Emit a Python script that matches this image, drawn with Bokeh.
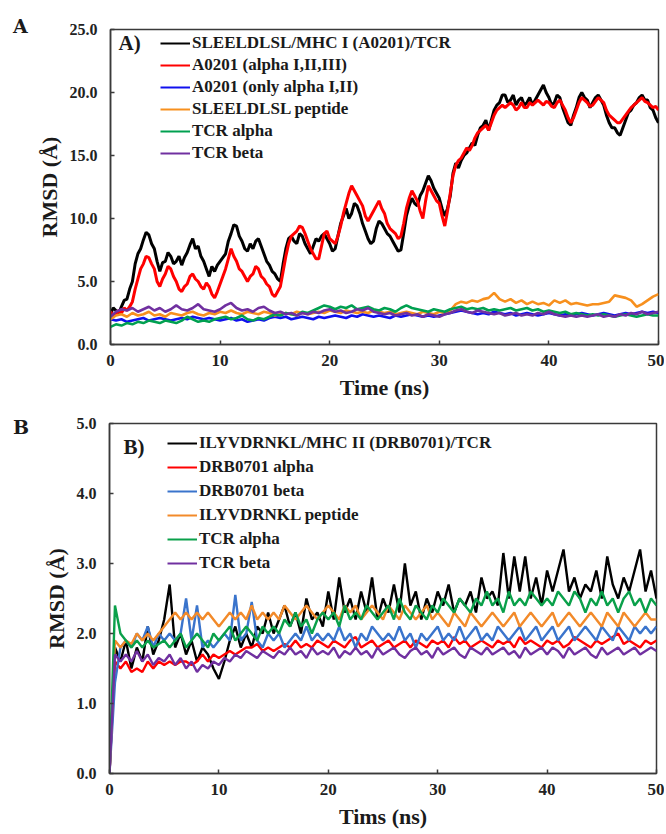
from bokeh.plotting import figure
from bokeh.models import Legend, LegendItem, Label, NumeralTickFormatter, FixedTicker, Range1d, Div
from bokeh.layouts import column, row
from bokeh.embed import file_html
from bokeh.resources import INLINE

SERIF = "Liberation Serif"

# time grids (ns)
TIME = [i * 0.5 for i in range(101)]        # 0.5 ns sampling
TIME_FINE = [i * 0.25 for i in range(201)]  # 0.25 ns sampling

# ---------------- Panel A ----------------
A_LABELS = ["SLEELDLSL/MHC I (A0201)/TCR", "A0201 (alpha I,II,III)", "A0201 (only alpha I,II)",
            "SLEELDLSL peptide", "TCR alpha", "TCR beta"]
A_COLORS = ["#000000", "#ff0000", "#1010ee", "#f7901e", "#00a050", "#7030a0"]

# complex and full MHC: 0.25 ns sampling
A_complex = [2.4, 2.9, 2.7, 2.5, 3.0, 3.5, 3.6, 4.4, 5.0, 6.4,
             7.2, 7.6, 8.3, 8.9, 8.7, 8.0, 7.6, 6.6, 5.8, 6.5,
             6.6, 7.3, 7.0, 6.4, 6.6, 7.0, 6.3, 6.9, 7.3, 7.9,
             8.4, 7.6, 7.8, 7.0, 6.6, 6.0, 5.4, 6.2, 5.8, 6.3,
             6.6, 6.9, 7.2, 8.2, 8.8, 9.5, 9.4, 8.6, 8.2, 7.6,
             7.4, 8.0, 7.6, 8.2, 8.4, 7.8, 7.2, 6.6, 6.3, 5.8,
             5.6, 5.2, 5.0, 6.4, 7.6, 8.4, 8.6, 8.2, 8.0, 8.8,
             8.6, 8.0, 7.6, 7.2, 7.8, 8.4, 8.2, 8.6, 8.8, 8.4,
             8.0, 7.4, 7.6, 8.6, 9.6, 10.2, 10.8, 10.0, 10.4, 11.2,
             11.0, 10.4, 9.6, 9.0, 8.4, 8.0, 8.2, 9.2, 9.8, 9.6,
             9.2, 8.8, 8.6, 8.2, 7.8, 7.4, 7.5, 8.8, 10.2, 11.0,
             11.6, 11.2, 11.0, 11.8, 12.2, 12.8, 13.4, 13.0, 12.4, 12.0,
             11.6, 10.8, 10.2, 10.8, 11.8, 13.6, 14.4, 14.0, 14.6, 15.0,
             15.2, 15.6, 16.0, 15.8, 16.6, 17.2, 17.4, 17.8, 17.0, 17.8,
             18.6, 19.0, 19.2, 19.8, 19.8, 19.2, 19.4, 19.8, 19.0, 19.4,
             19.6, 19.0, 19.2, 19.6, 19.0, 19.4, 19.8, 20.2, 20.6, 20.0,
             19.6, 19.0, 19.2, 19.8, 19.6, 18.8, 18.2, 17.6, 17.4, 18.2,
             18.8, 19.6, 20.0, 19.6, 19.4, 18.8, 19.2, 19.6, 19.8, 19.4,
             19.0, 18.2, 17.6, 17.2, 17.2, 16.8, 16.6, 17.2, 17.8, 18.4,
             18.6, 19.0, 19.2, 19.6, 19.8, 19.4, 19.4, 18.8, 18.6, 18.0,
             17.6]
A_mhc_full = [2.6, 2.3, 2.4, 2.7, 2.5, 2.9, 2.7, 3.0, 3.4, 4.4,
              5.2, 6.0, 6.4, 7.0, 6.9, 6.4, 6.0, 5.0, 4.6, 5.2,
              5.6, 6.2, 6.0, 5.4, 5.0, 4.4, 4.2, 4.6, 4.8, 5.4,
              5.6, 5.2, 5.0, 4.6, 4.4, 4.9, 4.6, 4.0, 3.7, 4.2,
              4.8, 5.4, 6.0, 6.8, 7.6, 7.0, 6.6, 6.0, 5.8, 5.4,
              5.0, 5.4, 5.6, 6.2, 6.0, 5.4, 5.2, 4.8, 4.6, 4.0,
              3.8, 4.2, 4.6, 5.8, 7.0, 8.0, 8.6, 8.8, 9.0, 9.4,
              9.3, 8.8, 8.2, 7.6, 7.2, 6.8, 6.8, 7.8, 8.8, 9.0,
              8.4, 8.2, 8.0, 8.6, 9.4, 10.4, 11.2, 12.0, 12.6, 12.2,
              11.8, 11.4, 11.0, 10.2, 9.8, 10.2, 10.6, 11.0, 11.4, 10.8,
              10.4, 9.6, 9.2, 9.0, 8.8, 8.4, 8.6, 9.6, 10.8, 11.6,
              12.2, 11.8, 11.4, 10.6, 10.0, 11.4, 12.6, 12.2, 11.8, 11.4,
              11.2, 10.2, 9.4, 10.6, 12.0, 13.4, 14.2, 14.6, 14.8, 15.2,
              15.6, 15.4, 15.8, 16.4, 16.8, 17.0, 17.2, 17.4, 17.0, 17.6,
              18.2, 18.6, 18.8, 19.0, 18.8, 19.0, 19.2, 19.0, 18.6, 18.8,
              19.2, 18.8, 18.8, 19.2, 19.0, 19.2, 19.4, 19.2, 19.0, 19.3,
              19.2, 18.9, 18.8, 19.2, 19.4, 19.0, 18.6, 18.0, 17.6, 18.0,
              18.6, 19.2, 19.6, 19.4, 19.2, 18.9, 19.0, 19.3, 19.6, 19.4,
              19.2, 18.6, 18.2, 18.0, 17.8, 17.6, 17.6, 17.9, 18.2, 18.5,
              18.8, 19.0, 19.2, 19.4, 19.6, 19.3, 19.2, 19.0, 18.8, 18.9,
              18.6]
# remaining A series: 0.5 ns sampling
A_mhc_a12 = [2.0, 1.9, 2.0, 1.8, 1.9, 2.0, 2.1, 1.9, 2.0, 2.1,
             2.0, 1.9, 2.0, 2.1, 2.0, 2.2, 2.1, 2.0, 2.1, 2.0,
             1.9, 2.0, 2.1, 1.9, 2.0, 1.8, 1.9, 2.0, 1.9, 2.1,
             2.2, 2.1, 2.2, 2.0, 2.1, 2.2, 2.1, 2.0, 2.2, 2.1,
             2.2, 2.3, 2.2, 2.1, 2.3, 2.2, 2.4, 2.3, 2.2, 2.3,
             2.2, 2.1, 2.3, 2.2, 2.3, 2.4, 2.3, 2.2, 2.3, 2.2,
             2.3, 2.4, 2.5, 2.6, 2.7, 2.6, 2.5, 2.4, 2.5, 2.4,
             2.6, 2.5, 2.4, 2.5, 2.3, 2.4, 2.5, 2.4, 2.3, 2.4,
             2.5, 2.4, 2.3, 2.4, 2.3, 2.4, 2.5, 2.4, 2.3, 2.4,
             2.5, 2.4, 2.3, 2.4, 2.5, 2.4, 2.5, 2.6, 2.5, 2.6,
             2.5]
A_peptide = [2.0, 2.3, 2.4, 2.2, 2.5, 2.3, 2.4, 2.6, 2.3, 2.4,
             2.2, 2.5, 2.4, 2.3, 2.5, 2.6, 2.4, 2.3, 2.5, 2.4,
             2.6, 2.5, 2.7, 2.5, 2.4, 2.6, 2.5, 2.4, 2.6, 2.5,
             2.3, 2.4, 2.5, 2.4, 2.6, 2.5, 2.4, 2.5, 2.6, 2.5,
             2.7, 2.6, 2.5, 2.7, 2.6, 2.5, 2.6, 2.5, 2.7, 2.6,
             2.5, 2.6, 2.4, 2.5, 2.6, 2.5, 2.4, 2.6, 2.5, 2.4,
             2.6, 2.5, 2.7, 3.2, 3.4, 3.3, 3.5, 3.4, 3.6, 3.7,
             4.1, 3.6, 3.4, 3.6, 3.3, 3.5, 3.2, 3.4, 3.2, 3.3,
             3.1, 3.5, 3.3, 3.5, 3.2, 3.3, 3.2, 3.1, 3.2, 3.2,
             3.3, 3.4, 3.9, 3.8, 3.7, 3.5, 3.0, 3.2, 3.5, 3.8,
             4.0]
A_tcr_a = [1.4, 1.6, 1.5, 1.7, 1.6, 1.8, 1.7, 1.9, 1.8, 1.7,
           1.9, 1.8, 1.7, 1.9, 2.2, 2.0, 1.8, 1.9, 1.8, 2.0,
           2.1, 2.2, 2.0, 2.1, 2.3, 2.0, 1.9, 2.1, 2.0, 2.2,
           2.4, 2.3, 2.5, 2.4, 2.3, 2.6, 2.5, 2.7, 2.9, 3.1,
           3.0, 2.8, 3.0, 2.9, 3.1, 2.8, 2.9, 3.0, 2.8, 2.7,
           2.9, 2.8, 2.6, 2.9, 3.1, 2.9, 2.8, 2.7, 2.6, 2.8,
           2.7, 2.6, 2.8, 2.9, 3.0, 2.8, 2.9, 2.8, 2.9, 2.7,
           2.8, 2.7, 2.8, 2.9, 2.7, 2.8, 2.9, 2.7, 2.8, 2.6,
           2.7, 2.6, 2.5, 2.6, 2.4, 2.5, 2.4, 2.3, 2.4, 2.3,
           2.4, 2.3, 2.2, 2.3, 2.4, 2.3, 2.2, 2.3, 2.4, 2.3,
           2.3]
A_tcr_b = [2.2, 2.6, 2.8, 2.7, 2.9, 2.6, 2.8, 3.0, 2.7, 2.9,
           2.6, 2.8, 3.1, 2.8, 2.7, 2.9, 3.2, 2.8, 2.7, 2.6,
           2.8, 3.1, 3.3, 2.9, 2.7, 2.8, 2.6, 2.9, 3.0, 2.7,
           2.5, 2.6, 2.4, 2.5, 2.3, 2.5, 2.4, 2.6, 2.5, 2.7,
           2.8, 2.6, 2.7, 2.5, 2.6, 2.8, 2.7, 2.9, 2.6, 2.5,
           2.4, 2.5, 2.3, 2.4, 2.5, 2.3, 2.4, 2.2, 2.4, 2.3,
           2.2, 2.4, 2.5, 2.7, 2.8, 2.6, 2.5, 2.7, 2.6, 2.5,
           2.4, 2.5, 2.3, 2.4, 2.5, 2.3, 2.4, 2.3, 2.5, 2.4,
           2.6, 2.4, 2.3, 2.2, 2.3, 2.2, 2.3, 2.2, 2.3, 2.4,
           2.2, 2.3, 2.2, 2.4, 2.3, 2.5, 2.4, 2.6, 2.4, 2.5,
           2.6]

# ---------------- Panel B (0.5 ns sampling) ----------------
B_LABELS = ["ILYVDRNKL/MHC II (DRB0701)/TCR", "DRB0701 alpha", "DRB0701 beta",
            "ILYVDRNKL peptide", "TCR alpha", "TCR beta"]
B_COLORS = ["#000000", "#ff0000", "#3a74cc", "#f28a2a", "#0aa04a", "#7030a0"]

B_complex = [0.0, 1.8, 1.6, 1.9, 1.5, 1.8, 1.6, 2.1, 1.7, 1.9,
             2.2, 2.7, 1.8, 2.0, 1.7, 1.9, 1.6, 1.8, 1.7, 1.5,
             1.35, 1.6, 1.9, 2.1, 1.8, 2.0, 1.8, 2.1, 2.0, 2.3,
             2.0, 2.2, 2.4, 2.1, 2.3, 2.0, 2.5, 2.2, 2.3, 2.1,
             2.6, 2.2, 2.8, 2.3, 2.5, 2.2, 2.6, 2.3, 2.8, 2.2,
             2.5, 2.3, 2.7, 2.3, 3.0, 2.4, 2.6, 2.2, 2.5, 2.3,
             2.6, 2.4, 2.7, 2.3, 2.5, 2.4, 2.6, 2.3, 2.8, 2.5,
             2.6, 2.4, 3.15, 2.5, 3.1, 2.6, 3.1, 2.5, 2.8, 2.4,
             2.9, 2.6, 2.9, 3.2, 2.6, 2.8, 2.5, 2.7, 2.6, 2.9,
             2.5, 3.1, 2.7, 2.5, 2.8, 2.6, 2.9, 3.2, 2.6, 2.9,
             2.5]
B_mhc_a = [0.0, 1.6, 1.5, 1.6, 1.45, 1.5, 1.45, 1.6, 1.5, 1.6,
           1.55, 1.6, 1.55, 1.6, 1.6, 1.55, 1.6, 1.7, 1.6, 1.7,
           1.65, 1.7, 1.75, 1.7, 1.75, 1.8, 1.8, 1.85, 1.75, 1.8,
           1.75, 1.8, 1.85, 1.8, 1.9, 1.8, 1.85, 1.8, 1.9, 1.85,
           1.8, 1.9, 1.85, 1.8, 1.9, 1.95, 1.8, 1.85, 1.9, 1.8,
           1.85, 1.9, 1.8, 1.85, 1.9, 1.8, 1.9, 1.85, 1.8, 1.9,
           1.85, 1.9, 1.8, 1.95, 1.85, 1.9, 1.8, 1.85, 1.9, 1.85,
           1.8, 1.9, 1.85, 1.9, 1.8, 1.95, 1.85, 1.9, 1.85, 1.8,
           1.9, 1.85, 1.9, 1.8, 1.85, 1.95, 1.9, 1.85, 1.8, 1.9,
           1.85, 1.9, 1.95, 2.0, 1.85, 1.9, 1.85, 1.8, 1.9, 1.85,
           1.9]
B_mhc_b = [0.0, 1.3, 1.8, 1.9, 1.8, 2.0, 1.9, 2.1, 1.8, 2.0,
           1.9, 2.0, 1.9, 2.0, 2.5, 1.9, 2.4, 1.8, 1.9, 1.8,
           1.9, 2.0, 1.9, 2.55, 1.9, 2.0, 2.45, 1.9, 1.8, 2.0,
           1.9, 2.0, 1.8, 1.9, 2.0, 1.9, 2.1, 1.9, 2.0, 1.9,
           2.0, 1.9, 2.1, 1.9, 2.0, 1.8, 2.0, 1.9, 2.1, 2.0,
           1.9, 2.0, 1.9, 2.1, 1.9, 2.0, 1.8, 2.0, 1.9, 2.0,
           2.1, 1.9, 2.0, 1.9, 2.1, 1.9, 2.0, 2.1, 1.9, 2.0,
           1.9, 2.1, 2.0, 1.9, 2.0, 2.1, 1.9, 2.0, 2.1, 1.9,
           2.0, 2.1, 1.9, 2.0, 2.1, 1.9, 2.0, 2.1, 2.0, 1.9,
           2.1, 2.0, 1.9, 2.1, 2.0, 1.9, 2.1, 2.0, 2.1, 2.0,
           2.1]
B_peptide = [0.0, 1.9, 1.8, 1.9, 1.85, 2.0, 1.9, 2.0, 1.9, 2.0,
             2.1, 2.2, 2.3, 2.2, 2.3, 2.2, 2.3, 2.2, 2.3, 2.2,
             2.1, 2.2, 2.3, 2.2, 2.3, 2.2, 2.4, 2.2, 2.3, 2.2,
             2.3, 2.2, 2.4, 2.3, 2.2, 2.3, 2.4, 2.3, 2.2, 2.3,
             2.4, 2.3, 2.2, 2.4, 2.3, 2.4, 2.2, 2.3, 2.4, 2.3,
             2.2, 2.4, 2.3, 2.2, 2.4, 2.3, 2.2, 2.3, 2.4, 2.2,
             2.3, 2.2, 2.1, 2.3, 2.2, 2.1, 2.3, 2.2, 2.1, 2.2,
             2.3, 2.2, 2.1, 2.2, 2.3, 2.1, 2.2, 2.3, 2.2, 2.1,
             2.2, 2.3, 2.1, 2.2, 2.3, 2.2, 2.1, 2.2, 2.3, 2.2,
             2.1, 2.3, 2.2, 2.1, 2.3, 2.2, 2.1, 2.2, 2.3, 2.2,
             2.2]
B_tcr_a = [0.0, 2.4, 2.0, 1.9, 1.8, 1.9, 1.8, 1.9, 1.8, 1.85,
           1.9, 1.8, 1.9, 2.0, 1.8, 1.9, 2.0, 1.9, 1.8, 2.0,
           1.9, 2.0, 2.1, 1.9, 2.0, 2.1, 2.0, 1.9, 2.1, 2.0,
           2.1, 2.0, 2.2, 2.1, 2.3, 2.1, 2.2, 2.0, 2.2, 2.3,
           2.2, 2.3, 2.1, 2.4, 2.2, 2.3, 2.2, 2.4, 2.3, 2.2,
           2.3, 2.4, 2.2, 2.5, 2.3, 2.2, 2.4, 2.3, 2.2, 2.4,
           2.3, 2.5, 2.4, 2.3, 2.5, 2.4, 2.3, 2.5, 2.4, 2.6,
           2.4, 2.5, 2.3, 2.6, 2.4, 2.5, 2.4, 2.6, 2.5, 2.4,
           2.5, 2.4, 2.6, 2.5, 2.4, 2.6, 2.5, 2.3, 2.5, 2.4,
           2.6, 2.4, 2.5, 2.3, 2.5, 2.6, 2.4, 2.5, 2.3, 2.5,
           2.4]
B_tcr_b = [0.0, 1.7, 1.6, 1.7, 1.6, 1.75, 1.6, 1.7, 1.55, 1.65,
           1.6, 1.7, 1.55, 1.65, 1.5, 1.6, 1.45, 1.55, 1.5, 1.6,
           1.55, 1.65, 1.6, 1.7, 1.65, 1.75, 1.7, 1.65, 1.75, 1.7,
           1.65, 1.75, 1.7, 1.8, 1.7, 1.75, 1.65, 1.8, 1.7, 1.75,
           1.7, 1.8, 1.65, 1.75, 1.7, 1.8, 1.7, 1.75, 1.65, 1.8,
           1.7, 1.75, 1.8, 1.7, 1.65, 1.75, 1.8, 1.7, 1.75, 1.65,
           1.8, 1.7, 1.75, 1.8, 1.7, 1.65, 1.8, 1.75, 1.7, 1.8,
           1.7, 1.75, 1.8, 1.7, 1.75, 1.65, 1.8, 1.7, 1.75, 1.8,
           1.7, 1.8, 1.75, 1.65, 1.8, 1.7, 1.75, 1.8, 1.7, 1.65,
           1.8, 1.7, 1.75, 1.8, 1.7, 1.75, 1.8, 1.7, 1.75, 1.8,
           1.75]

A_SERIES = [A_complex, A_mhc_full, A_mhc_a12, A_peptide, A_tcr_a, A_tcr_b]
B_SERIES = [B_complex, B_mhc_a, B_mhc_b, B_peptide, B_tcr_a, B_tcr_b]

A_YTICKS = [0, 5, 10, 15, 20, 25]
B_YTICKS = [0, 1, 2, 3, 4, 5]
XTICKS = [0, 10, 20, 30, 40, 50]


def style(p, yticks, xlabel):
    p.xgrid.visible = False
    p.ygrid.visible = False
    p.outline_line_color = "#3a3a3a"
    p.outline_line_width = 1.5
    p.xaxis.ticker = FixedTicker(ticks=XTICKS)
    p.yaxis.ticker = FixedTicker(ticks=yticks)
    p.yaxis.formatter = NumeralTickFormatter(format="0.0")
    for ax in (p.xaxis[0], p.yaxis[0]):
        ax.axis_line_color = "#3a3a3a"
        ax.axis_line_width = 1.5
        ax.major_tick_in = 4
        ax.major_tick_out = 0
        ax.minor_tick_line_color = None
        ax.major_tick_line_color = "#3a3a3a"
        ax.major_tick_line_width = 1.5
        ax.major_label_text_font = SERIF
        ax.major_label_text_font_style = "bold"
        ax.major_label_text_color = "#222222"
        ax.axis_label_text_font = SERIF
        ax.axis_label_text_font_style = "bold"
        ax.axis_label_text_font_size = "22px"
        ax.axis_label_text_color = "#1a1a1a"
    p.xaxis.major_label_text_font_size = "17px"
    p.yaxis.major_label_text_font_size = "16px"
    p.xaxis.major_label_standoff = 10
    p.yaxis.major_label_standoff = 13
    p.xaxis.axis_label = xlabel
    p.yaxis.axis_label = "RMSD (Å)"
    p.xaxis.axis_label_standoff = 6
    p.yaxis.axis_label_standoff = 5


def panel(series, times, labels, colors, widths, ymax, yticks, xlabel, width, height, borders,
          leg_loc, glyph_h, tag, tag_xy, letter, letter_top, side_w):
    p = figure(width=width - side_w, height=height, output_backend="svg", toolbar_location=None,
               x_range=Range1d(0, 50), y_range=Range1d(0, ymax),
               min_border_left=borders[0] - side_w, min_border_right=borders[1],
               min_border_top=borders[2], min_border_bottom=borders[3])
    style(p, yticks, xlabel)
    items = []
    for ys, ts, lab, col, lw in zip(series, times, labels, colors, widths):
        p.line(ts, ys, line_color=col, line_width=lw)
        # legend swatch renderer (no data, thin line like the original key)
        key = p.line([float("nan")], [float("nan")], line_color=col, line_width=2)
        items.append(LegendItem(label=lab, renderers=[key]))
    leg = Legend(items=items, location=leg_loc, padding=0, margin=0,
                 glyph_width=30, glyph_height=glyph_h, label_height=glyph_h,
                 spacing=2, label_standoff=2,
                 label_text_font=SERIF, label_text_font_style="bold",
                 label_text_font_size="17px", label_text_color="#1a1a1a",
                 background_fill_alpha=0, border_line_alpha=0)
    p.add_layout(leg, "center")
    p.add_layout(Label(x=tag_xy[0], y=tag_xy[1], text=tag, text_font=SERIF,
                       text_font_style="bold", text_font_size="21px",
                       text_baseline="middle", text_align="left", text_color="#1a1a1a"))
    side = Div(text=('<div style="position:relative; left:13px; top:%dpx; '
                     'font-family:\'DejaVu Serif\'; font-weight:bold; font-size:19px; '
                     'line-height:19px; color:#1a1a1a">%s</div>') % (letter_top, letter),
               width=side_w, height=height, margin=0)
    return row(side, p, spacing=0)


pa = panel(A_SERIES, [TIME_FINE, TIME_FINE, TIME, TIME, TIME, TIME],
           A_LABELS, A_COLORS, [3, 3, 2.6, 2.6, 2.6, 2.6], 25, A_YTICKS, "Time (ns)",
           664, 402, (110, 6, 29, 58), (50, 181), 20,
           "A)", (0.73, 23.9), "A", 17, 30)
pb = panel(B_SERIES, [TIME] * 6,
           B_LABELS, B_COLORS, [2.4, 2.4, 2.4, 2.4, 2.4, 2.4], 5, B_YTICKS, "Tims (ns)",
           664, 430, (105, 8, 21, 59), (58, 199), 22,
           "B)", (1.27, 4.67), "B", 16, 40)

layout = column(pa, pb, spacing=0)
open("out.html", "w").write(file_html(layout, INLINE))
